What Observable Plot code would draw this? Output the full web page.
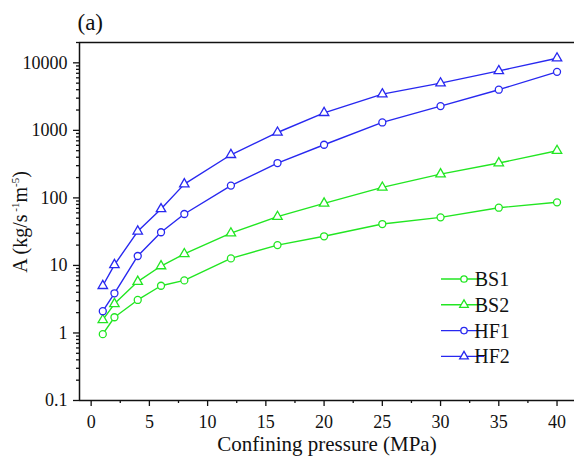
<!DOCTYPE html>
<html>
<head>
<meta charset="utf-8">
<script src="https://cdn.jsdelivr.net/npm/d3@7"></script>
<script src="https://cdn.jsdelivr.net/npm/@observablehq/plot@0.6"></script>
<style>
  html, body { margin: 0; padding: 0; background: #fff; }
  #chart { width: 574px; height: 456px; }
  #chart svg, #chart svg text { font-family: "Liberation Serif", "Times New Roman", "DejaVu Serif", serif !important; }
</style>
</head>
<body>
<div id="chart"></div>
<script>
const pressure = [1, 2, 4, 6, 8, 12, 16, 20, 25, 30, 35, 40];
const BS1 = [0.96, 1.71, 3.08, 5.0, 6.0, 12.7, 20, 27, 41, 51.5, 71.6, 86];
const BS2 = [1.56, 2.7, 5.76, 9.8, 14.8, 30, 52.7, 83, 143, 225, 328, 500];
const HF1 = [2.1, 3.87, 13.8, 31, 57.8, 152, 328, 612, 1310, 2290, 4000, 7360];
const HF2 = [5.0, 10.2, 32, 68.5, 160, 435, 930, 1820, 3440, 5000, 7600, 11700];

const seriesNames = ["BS1", "BS2", "HF1", "HF2"];
const seriesValues = [BS1, BS2, HF1, HF2];
const seriesColors = ["#22e622", "#22e622", "#2828f0", "#2828f0"];
const seriesSymbols = ["circle", "triangle", "circle", "triangle"];

const xMajor = [0, 5, 10, 15, 20, 25, 30, 35, 40];
const xMinor = [2.5, 7.5, 12.5, 17.5, 22.5, 27.5, 32.5, 37.5];
const yMajor = [0.1, 1, 10, 100, 1000, 10000];
const yMajorLabels = ["0.1", "1", "10", "100", "1000", "10000"];

const xLabel = "Confining pressure (MPa)";
const panelTitle = "(a)";

const yMinor = [];
for (const d of [0.1, 1, 10, 100, 1000, 10000]) {
  for (let k = 2; k <= 9; k++) { const v = d * k; if (v <= 20000) yMinor.push(+v.toPrecision(3)); }
}

const table = [];
seriesNames.forEach((name, i) => {
  pressure.forEach((p, j) => table.push({series: name, x: p, y: seriesValues[i][j]}));
});

const font = "Liberation Serif, Times New Roman, serif";

const plot = Plot.plot({
  width: 574,
  height: 456,
  marginLeft: 79,
  marginRight: 0,
  marginTop: 42,
  marginBottom: 56,
  style: {fontFamily: font, fontSize: "18px", color: "#111", background: "white"},
  x: {domain: [-1, 41.5], axis: null},
  y: {type: "log", domain: [0.1, 20000], axis: null},
  color: {domain: seriesNames, range: seriesColors},
  symbol: {domain: seriesNames, range: seriesSymbols},
  marks: [
    Plot.axisX({ticks: xMinor, tickSize: 3, tickFormat: () => "", strokeWidth: 1.3, label: null}),
    Plot.axisX({ticks: xMajor, tickSize: 6, tickPadding: 9, strokeWidth: 1.3, label: null, fontSize: 18}),
    Plot.axisY({ticks: yMinor, tickSize: 3, tickFormat: () => "", strokeWidth: 1.3, label: null}),
    Plot.axisY({ticks: yMajor, tickSize: 6, tickPadding: 6, strokeWidth: 1.3, label: null, fontSize: 18,
      tickFormat: (d) => yMajorLabels[yMajor.indexOf(d)]}),
    Plot.ruleX([-1], {stroke: "#111", strokeWidth: 1.5}),
    Plot.ruleY([0.1, 20000], {stroke: "#111", strokeWidth: 1.5}),
    Plot.line(table, {x: "x", y: "y", z: "series", stroke: "series", strokeWidth: 1.4}),
    Plot.dot(table, {x: "x", y: "y", stroke: "series", symbol: "series", fill: "white", r: 3.5, strokeWidth: 1.3}),
    Plot.text([xLabel], {frameAnchor: "bottom", lineAnchor: "middle", dy: 44, fontSize: 21}),
    Plot.text([panelTitle], {frameAnchor: "top-left", textAnchor: "start", lineAnchor: "middle", dx: -2, dy: -20, fontSize: 23})
  ]
});

document.getElementById("chart").appendChild(plot);

// Y-axis label with superscripts
const svg = d3.select(plot);
const yl = svg.append("text")
  .attr("transform", "translate(27,222) rotate(-90)")
  .attr("text-anchor", "middle")
  .attr("font-size", 20)
  .attr("fill", "#111");
yl.append("tspan").text("A (kg/s");
yl.append("tspan").attr("dy", -8).attr("font-size", 11).text(" -1");
yl.append("tspan").attr("dy", 8).text("m");
yl.append("tspan").attr("dy", -8).attr("font-size", 11).text("-5");
yl.append("tspan").attr("dy", 8).text(")");

// Legend
const lg = svg.append("g").attr("font-size", 20).attr("fill", "#111");
seriesNames.forEach((name, i) => {
  const y = 279 + i * 25.8;
  lg.append("line").attr("x1", 441).attr("x2", 484).attr("y1", y).attr("y2", y)
    .attr("stroke", seriesColors[i]).attr("stroke-width", 1.4);
  const sym = seriesSymbols[i] === "circle" ? d3.symbolCircle : d3.symbolTriangle;
  lg.append("path").attr("d", d3.symbol(sym, Math.PI * 3.2 * 3.2)())
    .attr("transform", `translate(464,${y})`)
    .attr("fill", "white").attr("stroke", seriesColors[i]).attr("stroke-width", 1.3);
  lg.append("text").attr("x", 492).attr("y", y).attr("dy", "0.35em").text(name);
});
</script>
</body>
</html>
